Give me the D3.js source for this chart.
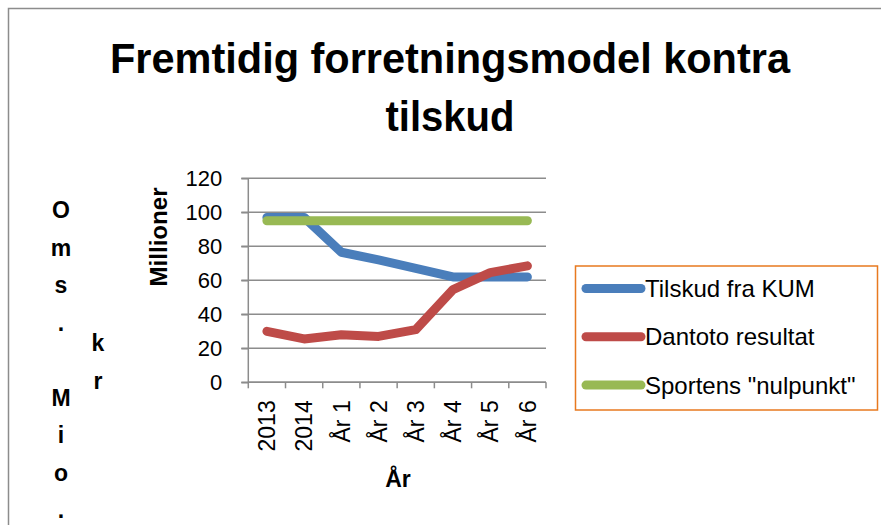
<!DOCTYPE html>
<html>
<head>
<meta charset="utf-8">
<script src="https://cdn.jsdelivr.net/npm/d3@7"></script>
<style>
  body { margin: 0; background: #fff; }
  text { font-family: "Liberation Sans", Arial, sans-serif; fill: #000; }
</style>
</head>
<body>
<div class="chart"></div>
<script>
var categories = ["2013", "2014", "År 1", "År 2", "År 3", "År 4", "År 5", "År 6"];
var tilskud = [97, 97, 76.5, 72, 67, 62, 62, 62];
var dantoto = [30, 25.5, 28, 27, 31, 54.5, 64.5, 68.5];
var nulpunkt = [95, 95, 95, 95, 95, 95, 95, 95];
var seriesNames = ["Tilskud fra KUM", "Dantoto resultat", "Sportens \"nulpunkt\""];
var seriesColors = ["#4A7EBB", "#BE4B48", "#98B954"];
var yTicks = [0, 20, 40, 60, 80, 100, 120];

var svgWidth = 881;
var svgHeight = 525;

var plot = { left: 248.3, right: 546, top: 178.3, bottom: 382.3 };

var svg = d3.select(".chart")
  .append("svg")
  .attr("width", svgWidth)
  .attr("height", svgHeight);

// chart frame (only left and top edges are visible)
svg.append("path")
  .attr("d", "M8.5,525 V8.5 H881")
  .attr("fill", "none")
  .attr("stroke", "#8c8c8c")
  .attr("stroke-width", 1.5);

// title
svg.append("text")
  .attr("x", 450).attr("y", 73)
  .attr("text-anchor", "middle")
  .attr("font-size", 42).attr("font-weight", "bold")
  .attr("textLength", 680).attr("lengthAdjust", "spacingAndGlyphs")
  .text("Fremtidig forretningsmodel kontra");
svg.append("text")
  .attr("x", 450).attr("y", 131)
  .attr("text-anchor", "middle")
  .attr("font-size", 42).attr("font-weight", "bold")
  .attr("textLength", 129).attr("lengthAdjust", "spacingAndGlyphs")
  .text("tilskud");

// scales
var xScale = d3.scaleBand()
  .domain(categories)
  .range([plot.left, plot.right])
  .padding(0);

var yScale = d3.scaleLinear()
  .domain([0, 120])
  .range([plot.bottom, plot.top]);

// gridlines
svg.append("g")
  .selectAll("line")
  .data(yTicks)
  .enter()
  .append("line")
  .attr("x1", plot.left - 7)
  .attr("x2", plot.right)
  .attr("y1", d => yScale(d))
  .attr("y2", d => yScale(d))
  .attr("stroke", "#8c8c8c")
  .attr("stroke-width", 1.5);

// y axis
var leftAxis = d3.axisLeft(yScale).tickValues(yTicks).tickSize(7).tickPadding(19);
var yAxisG = svg.append("g")
  .attr("transform", `translate(${plot.left}, 0)`)
  .call(leftAxis);
yAxisG.selectAll("line, path").attr("stroke", "#8c8c8c").attr("stroke-width", 1.5);
yAxisG.select(".domain").attr("d", `M0,${plot.top}V${plot.bottom}`);
yAxisG.selectAll("text").attr("font-size", 22).attr("font-family", "Liberation Sans, Arial, sans-serif").attr("fill", "#000");

// x axis: boundary ticks, rotated labels
var xAxisG = svg.append("g")
  .attr("transform", `translate(0, ${plot.bottom})`);
xAxisG.append("line")
  .attr("x1", plot.left).attr("x2", plot.right)
  .attr("stroke", "#8c8c8c").attr("stroke-width", 1.5);
var bounds = categories.map(c => xScale(c)).concat([xScale(categories[categories.length - 1]) + xScale.bandwidth()]);
xAxisG.selectAll(".xtick")
  .data(bounds)
  .enter()
  .append("line")
  .attr("x1", d => d).attr("x2", d => d)
  .attr("y1", 0).attr("y2", 6)
  .attr("stroke", "#8c8c8c").attr("stroke-width", 1.5);
xAxisG.selectAll(".xlabel")
  .data(categories)
  .enter()
  .append("text")
  .attr("transform", d => `translate(${xScale(d) + xScale.bandwidth() / 2}, 0) rotate(-90)`)
  .attr("x", -18)
  .attr("dy", "0.36em")
  .attr("text-anchor", "end")
  .attr("font-size", 23)
  .text(d => d);

// axis titles
svg.append("text")
  .attr("x", 398).attr("y", 487)
  .attr("text-anchor", "middle")
  .attr("font-size", 23).attr("font-weight", "bold")
  .text("År");

svg.append("text")
  .attr("transform", "translate(167, 237) rotate(-90)")
  .attr("text-anchor", "middle")
  .attr("font-size", 23).attr("font-weight", "bold")
  .attr("textLength", 99).attr("lengthAdjust", "spacingAndGlyphs")
  .text("Millioner");

// stacked outer label "Oms. Mio. kr"
var col1 = ["O", "m", "s", ".", " ", "M", "i", "o", "."];
var col2 = ["k", "r"];
svg.append("g").selectAll("text")
  .data(col1)
  .enter()
  .append("text")
  .attr("x", 61).attr("y", (d, i) => 218 + i * 37.5)
  .attr("text-anchor", "middle")
  .attr("font-size", 23).attr("font-weight", "bold")
  .text(d => d);
svg.append("g").selectAll("text")
  .data(col2)
  .enter()
  .append("text")
  .attr("x", 98).attr("y", (d, i) => 351 + i * 37.5)
  .attr("text-anchor", "middle")
  .attr("font-size", 23).attr("font-weight", "bold")
  .text(d => d);

// lines
var series = [tilskud, dantoto, nulpunkt];
var line = d3.line()
  .x((d, i) => xScale(categories[i]) + xScale.bandwidth() / 2)
  .y(d => yScale(d));

svg.append("g")
  .selectAll("path")
  .data(series)
  .enter()
  .append("path")
  .attr("d", d => line(d))
  .attr("fill", "none")
  .attr("stroke", (d, i) => seriesColors[i])
  .attr("stroke-width", 9)
  .attr("stroke-linecap", "round")
  .attr("stroke-linejoin", "round");

// legend
var legend = svg.append("g");
legend.append("rect")
  .attr("x", 575.5).attr("y", 266)
  .attr("width", 302).attr("height", 144)
  .attr("fill", "#fff")
  .attr("stroke", "#E8791F")
  .attr("stroke-width", 1.5);

var legendItems = legend.selectAll(".item")
  .data(seriesNames)
  .enter()
  .append("g")
  .attr("transform", (d, i) => `translate(0, ${288.5 + i * 48.3})`);
legendItems.append("line")
  .attr("x1", 586).attr("x2", 641)
  .attr("stroke", (d, i) => seriesColors[i])
  .attr("stroke-width", 9)
  .attr("stroke-linecap", "round");
legendItems.append("text")
  .attr("x", 645)
  .attr("dy", "0.35em")
  .attr("font-size", 24)
  .text(d => d);
</script>
</body>
</html>
